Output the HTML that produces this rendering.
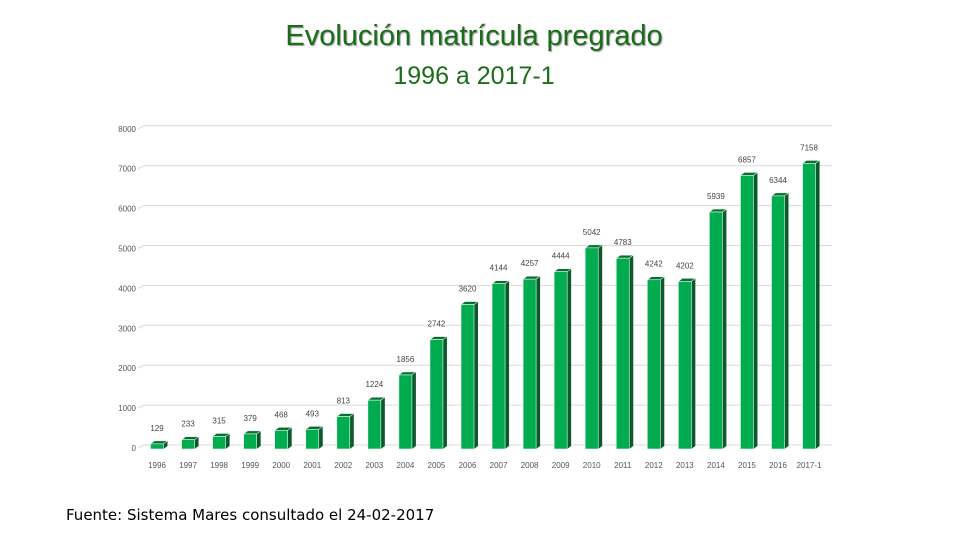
<!DOCTYPE html>
<html><head><meta charset="utf-8"><style>
body{margin:0;width:960px;height:540px;background:#fff;overflow:hidden;font-family:"Liberation Sans",sans-serif}
#t1{position:absolute;left:0;width:948px;top:20px;text-align:center;font-size:29px;color:#1a6e1a;text-shadow:1px 1px 1px #999}
#t2{position:absolute;left:0;width:948px;top:62px;text-align:center;font-size:25px;color:#1a6e1a}
#src{position:absolute;left:66px;top:506px;font-size:15px;color:#000;font-family:"DejaVu Sans",sans-serif}
svg{position:absolute;left:0;top:0}
</style></head><body>
<div id="t1">Evolución matrícula pregrado</div>
<div id="t2">1996 a 2017-1</div>
<svg id="c" width="960" height="540"></svg>
<div id="src">Fuente: Sistema Mares consultado el 24-02-2017</div>
<script>
const categories=["1996","1997","1998","1999","2000","2001","2002","2003","2004","2005","2006","2007","2008","2009","2010","2011","2012","2013","2014","2015","2016","2017-1"];
const values=[129,233,315,379,468,493,813,1224,1856,2742,3620,4144,4257,4444,5042,4783,4242,4202,5939,6857,6344,7158];
const yTicks=[0,1000,2000,3000,4000,5000,6000,7000,8000];
const NS="http://www.w3.org/2000/svg";
const svg=document.getElementById('c');
const x0=157,step=31.05,base=449,gridBase=445,k=0.0399;
const xs=i=>x0+i*step;
const ys=v=>base-v*k;
const gy=v=>gridBase-v*k;
function el(n,a){const e=document.createElementNS(NS,n);for(const p in a)e.setAttribute(p,a[p]);svg.appendChild(e);return e;}
yTicks.forEach(t=>{
  const l=el('polyline',{points:`138,${gy(t)+3} 144,${gy(t)} 832,${gy(t)}`,fill:'none',stroke:'#d9d9d9','stroke-width':1});
  
  
  const tx=el('text',{x:136,y:gy(t)+6,'text-anchor':'end','font-size':8,fill:'#555'});
  tx.textContent=t;
  
  
});
categories.forEach((c,i)=>{
  const cx=xs(i),w=13,d=4,top=ys(values[i]);
  const L=cx-w/2,R=cx+w/2;
  const g=document.createElementNS(NS,'g');svg.appendChild(g);
  
  
  const mk=(n,a)=>{const e=document.createElementNS(NS,n);for(const p in a)e.setAttribute(p,a[p]);g.appendChild(e);return e;};
  mk('polygon',{points:`${R},${top} ${R+d},${top-3} ${R+d},${base-3} ${R},${base}`,fill:'#0b5a2c'});
  mk('polygon',{points:`${L},${top} ${L+d},${top-3} ${R+d},${top-3} ${R},${top}`,fill:'#0d6b34',stroke:'#dff5e6','stroke-width':0.6});
  mk('rect',{x:L,y:top,width:w,height:base-top,fill:'#00ac4f',stroke:'#e8fbe9','stroke-width':0.6});
  const v=el('text',{x:cx,y:top-13,'text-anchor':'middle','font-size':8,fill:'#444'});
  v.textContent=values[i];
  
  
  const xl=el('text',{x:cx,y:468,'text-anchor':'middle','font-size':8,fill:'#555'});
  xl.textContent=c;
  
  
});
</script>
</body></html>
